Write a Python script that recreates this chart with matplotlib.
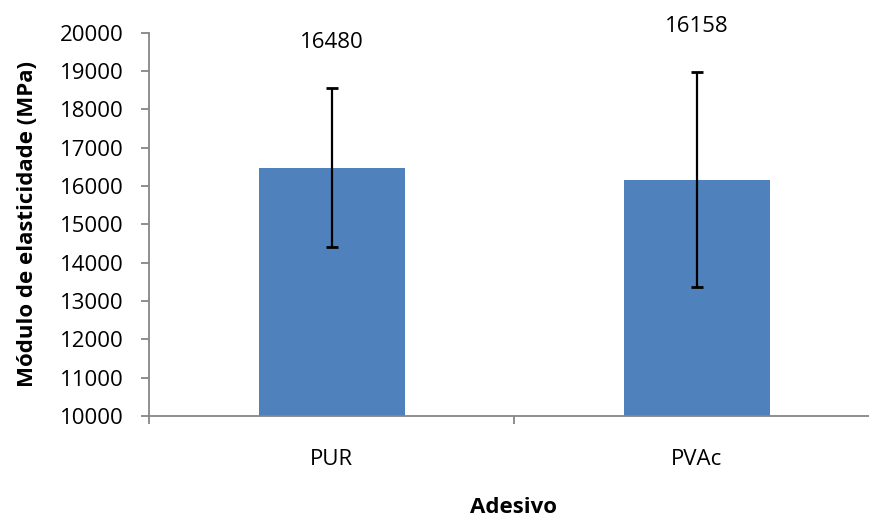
import matplotlib
matplotlib.use("Agg")
import matplotlib.pyplot as plt

# Data
adesivos = ["PUR", "PVAc"]
moe_mean = [16480, 16158]
moe_err = [2080, 2805]
y_ticks = list(range(10000, 20001, 1000))

bar_color = "#4F81BD"
axis_color = "#868686"

plt.rcParams["font.family"] = ["Open Sans", "DejaVu Sans"]
fs = 16

fig = plt.figure(figsize=(8.69, 5.19), dpi=100)
ax = fig.add_axes([149 / 869, 1 - 416 / 519, 730 / 869, (416 - 32.7) / 519])

x = list(range(len(adesivos)))
ax.bar(x, moe_mean, width=0.4, color=bar_color, zorder=2)
ax.errorbar(x, moe_mean, yerr=moe_err, fmt="none", ecolor="black",
            elinewidth=1.6, capsize=4.5, capthick=2, zorder=3)

for xi, m, e in zip(x, moe_mean, moe_err):
    ax.annotate(f"{m}", xy=(xi, m + e), xytext=(0, 33), textcoords="offset points",
                ha="center", va="center", fontsize=fs, color="black",
                annotation_clip=False)

ax.set_xlim(-0.5, 1.5)
ax.set_ylim(10000, 20000)
ax.set_yticks(y_ticks)
ax.set_yticklabels([str(v) for v in y_ticks])
ax.set_xticks([0, 1])
ax.set_xticklabels(adesivos)
ax.set_xticks([-0.5, 0.5, 1.5], minor=True)

for side in ["top", "right"]:
    ax.spines[side].set_visible(False)
for side in ["left", "bottom"]:
    ax.spines[side].set_color(axis_color)
    ax.spines[side].set_linewidth(1.3)

ax.tick_params(axis="y", which="major", direction="out", length=6, width=1.3,
               color=axis_color, labelsize=fs, pad=12)
ax.tick_params(axis="x", which="major", length=0, labelsize=fs, pad=24)
ax.tick_params(axis="x", which="minor", direction="out", length=6, width=1.3,
               color=axis_color)

ax.set_ylabel("Módulo de elasticidade (MPa)", fontsize=fs, fontweight="bold", labelpad=16)
ax.set_xlabel("Adesivo", fontsize=fs, fontweight="bold")
ax.xaxis.set_label_coords(0.5, -0.212)

fig.savefig("out.png", dpi=100)
